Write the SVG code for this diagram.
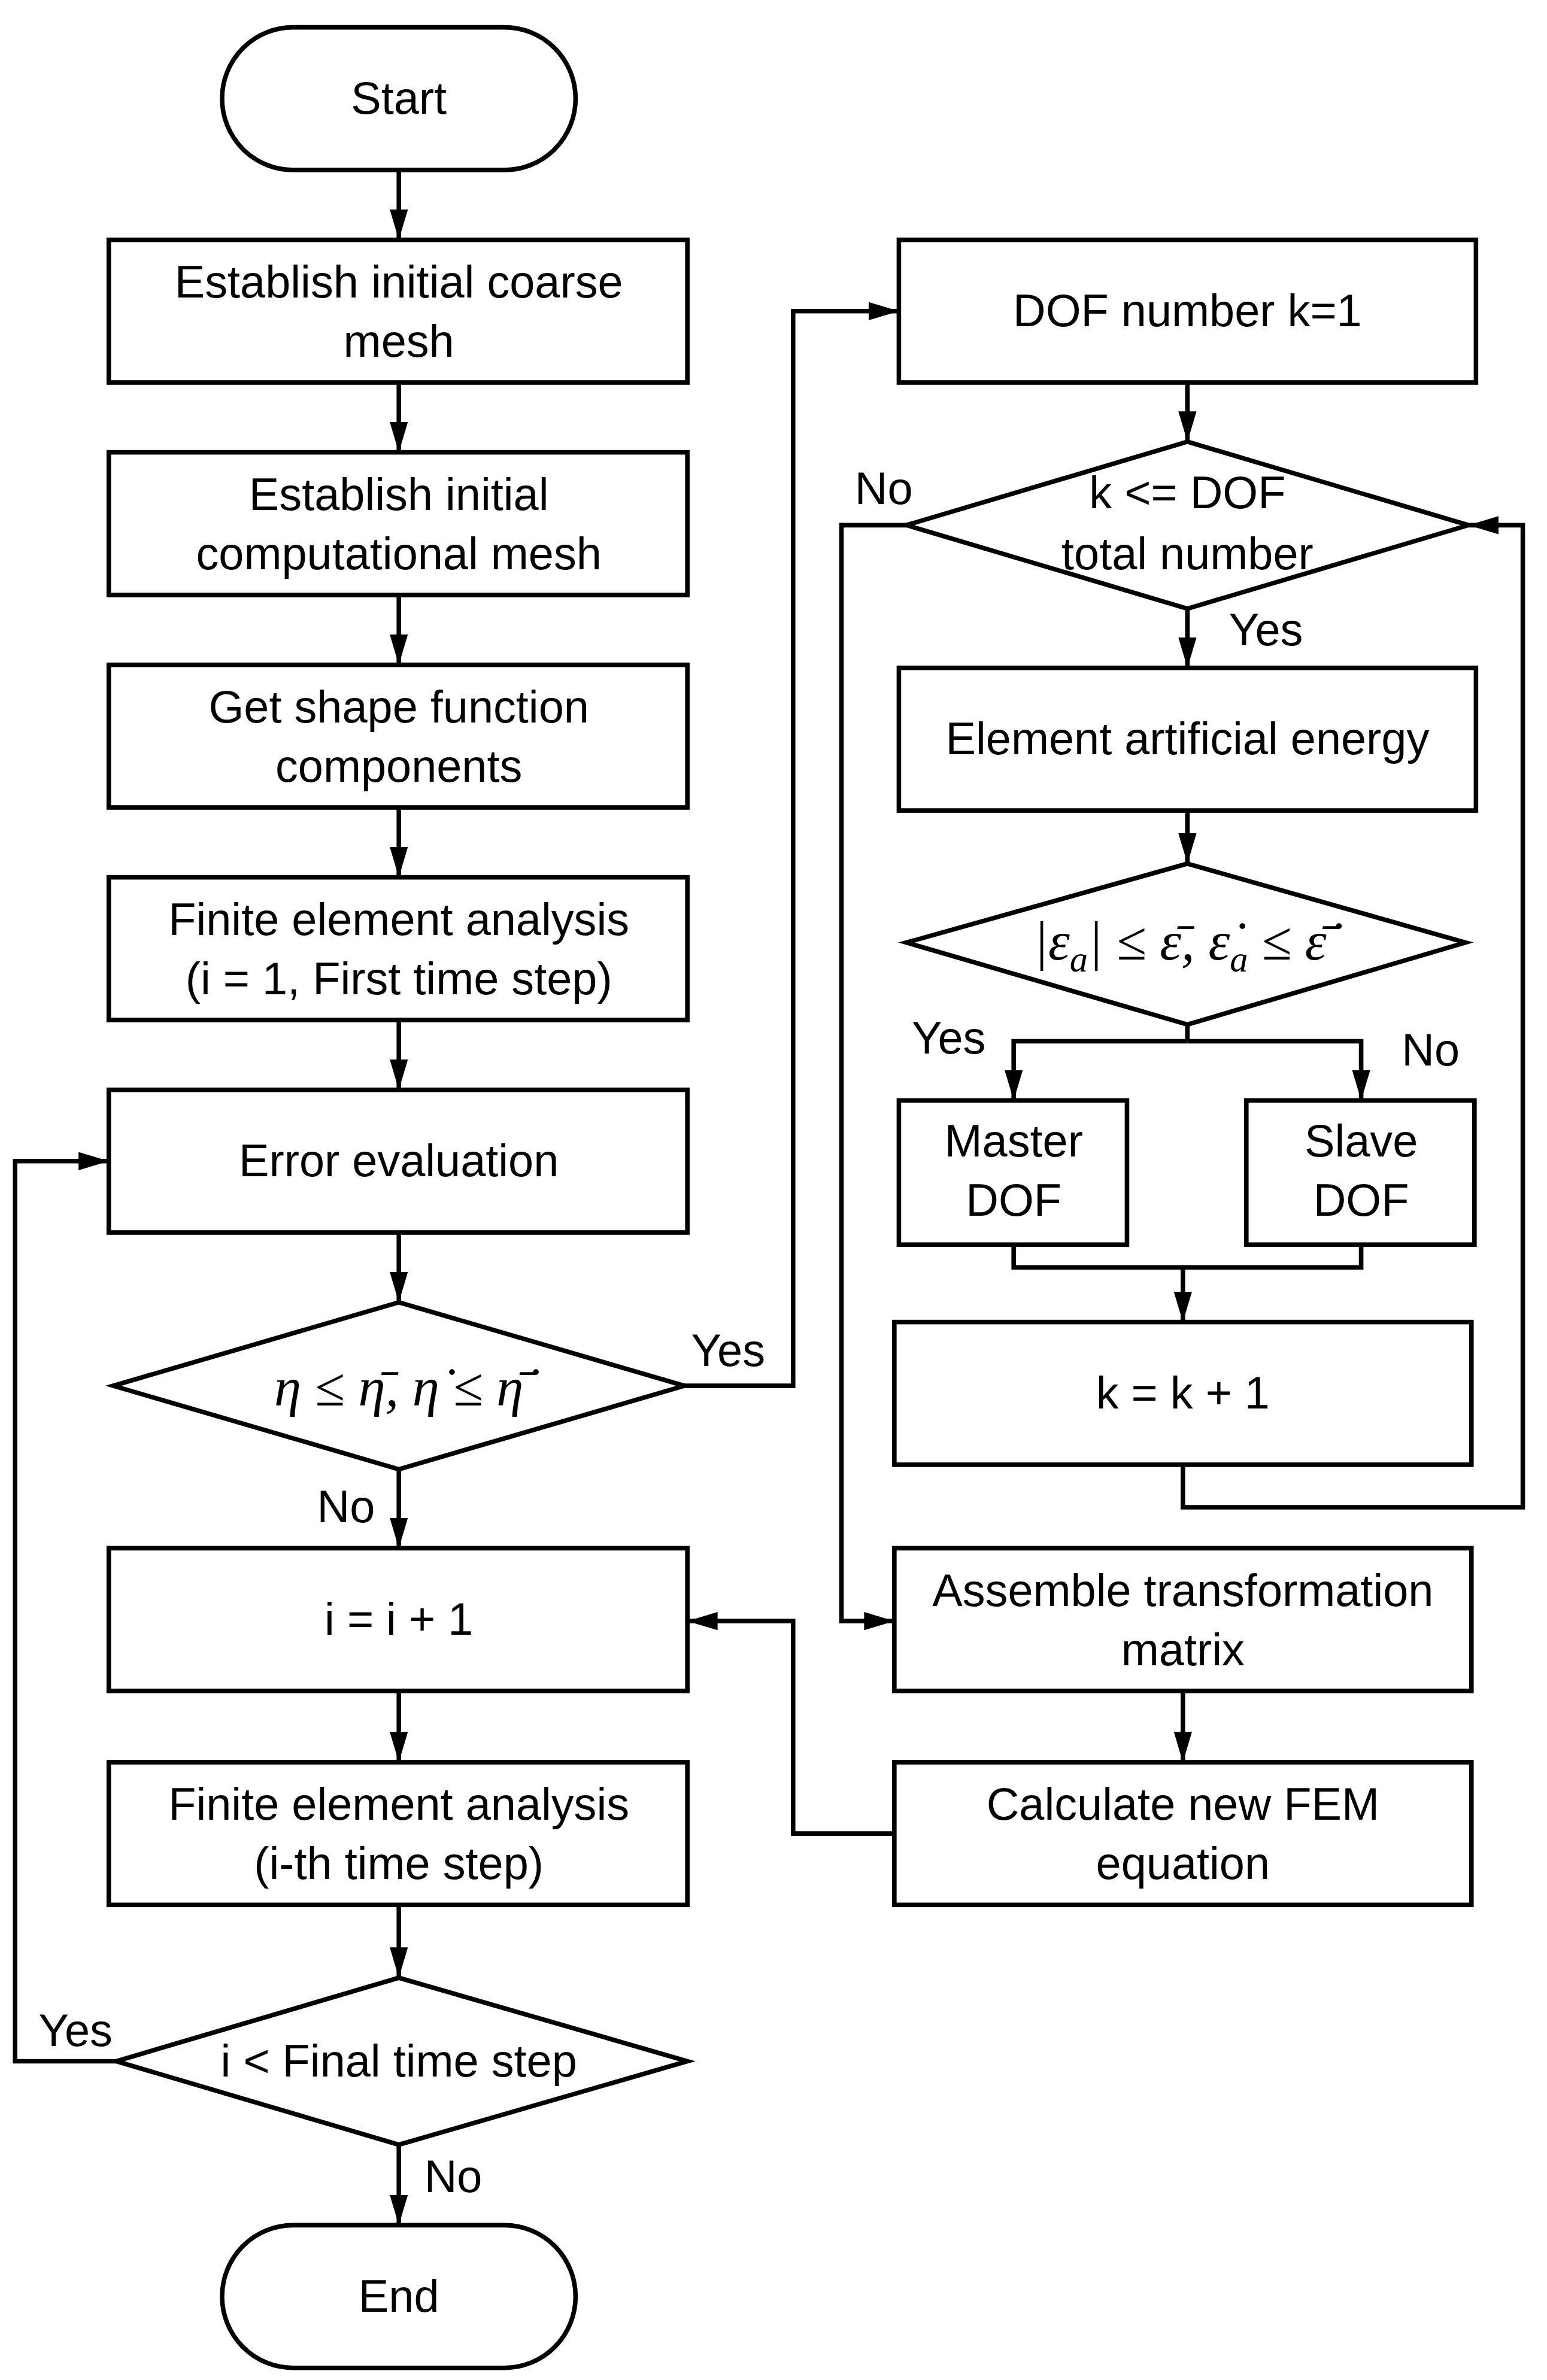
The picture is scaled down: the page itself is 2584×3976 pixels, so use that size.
<svg xmlns="http://www.w3.org/2000/svg" width="2584" height="3976" viewBox="0 0 2584 3976">
<style>
.n{fill:#fff;stroke:#000;stroke-width:3}
.t{font-family:"Liberation Sans",Arial,sans-serif;font-size:30px;text-anchor:middle;fill:#000}
.m{font-family:"Liberation Serif","DejaVu Serif",serif;font-style:italic;font-size:36px;text-anchor:middle;fill:#000}
.c{fill:none;stroke:#000;stroke-width:3}
</style>
<defs><marker id="a" markerWidth="8" markerHeight="10" refX="8" refY="5" orient="auto" markerUnits="userSpaceOnUse"><path d="M0,0 L0,0 L8,5 L0,10 Z" transform="scale(1)"/></marker>
<marker id="h" viewBox="0 0 20 12" markerWidth="20" markerHeight="12" refX="20" refY="6" orient="auto" markerUnits="userSpaceOnUse"><path d="M0,0 L20,6 L0,12 Z"/></marker></defs>
<rect width="2584" height="3976" fill="#fff"/>
<g transform="scale(2.5234,2.5357)">
<g id="connectors">
<path class="c" marker-end="url(#h)" d="M264,112 V158"/>
<path class="c" marker-end="url(#h)" d="M264,252 V298"/>
<path class="c" marker-end="url(#h)" d="M264,392 V438"/>
<path class="c" marker-end="url(#h)" d="M264,532 V578"/>
<path class="c" marker-end="url(#h)" d="M264,672 V718"/>
<path class="c" marker-end="url(#h)" d="M264,812 V858"/>
<path class="c" marker-end="url(#h)" d="M264,968 V1020"/>
<path class="c" marker-end="url(#h)" d="M264,1114 V1161"/>
<path class="c" marker-end="url(#h)" d="M264,1255 V1303"/>
<path class="c" marker-end="url(#h)" d="M264,1413 V1466"/>
<path class="c" marker-end="url(#h)" d="M77,1358 H10 V765 H72"/>
<path class="c" marker-end="url(#h)" d="M453,913 H525 V205 H595"/>
<path class="c" marker-end="url(#h)" d="M786,252 V291"/>
<path class="c" marker-end="url(#h)" d="M786,401 V440"/>
<path class="c" marker-end="url(#h)" d="M786,534 V569"/>
<path class="c" d="M786,675 V686"/>
<path class="c" marker-end="url(#h)" d="M786,686 H671 V725"/>
<path class="c" marker-end="url(#h)" d="M786,686 H901 V725"/>
<path class="c" d="M671,820 V835 H901 V820"/>
<path class="c" marker-end="url(#h)" d="M783,835 V871"/>
<path class="c" marker-end="url(#h)" d="M783,965 V993 H1008 V346 H972"/>
<path class="c" marker-end="url(#h)" d="M600,346 H557 V1068 H592"/>
<path class="c" marker-end="url(#h)" d="M783,1114 V1161"/>
<path class="c" marker-end="url(#h)" d="M592,1208 H525 V1068 H455"/>
</g>
<g id="start"><rect class="n" x="147" y="18" width="234" height="94" rx="47"/><text class="t" x="264" y="75">Start</text></g>
<g id="b1"><rect class="n" x="72" y="158" width="383" height="94"/><text class="t" x="264" y="196">Establish initial coarse</text><text class="t" x="264" y="235">mesh</text></g>
<g id="b2"><rect class="n" x="72" y="298" width="383" height="94"/><text class="t" x="264" y="336">Establish initial</text><text class="t" x="264" y="375">computational mesh</text></g>
<g id="b3"><rect class="n" x="72" y="438" width="383" height="94"/><text class="t" x="264" y="476">Get shape function</text><text class="t" x="264" y="515">components</text></g>
<g id="b4"><rect class="n" x="72" y="578" width="383" height="94"/><text class="t" x="264" y="616">Finite element analysis</text><text class="t" x="264" y="655">(i = 1, First time step)</text></g>
<g id="b5"><rect class="n" x="72" y="718" width="383" height="94"/><text class="t" x="264" y="775">Error evaluation</text></g>
<g id="d1"><polygon class="n" points="264,858 453,913 264,968 75,913"/><text class="m" x="264" y="926">η ≤ η̄, η̇ ≤ η̄̇</text></g>
<g id="b6"><rect class="n" x="72" y="1020" width="383" height="94"/><text class="t" x="264" y="1077">i = i + 1</text></g>
<g id="b7"><rect class="n" x="72" y="1161" width="383" height="94"/><text class="t" x="264" y="1199">Finite element analysis</text><text class="t" x="264" y="1238">(i-th time step)</text></g>
<g id="d2"><polygon class="n" points="264,1303 455,1358 264,1413 77,1358"/><text class="t" x="264" y="1368">i &lt; Final time step</text></g>
<g id="end"><rect class="n" x="147" y="1466" width="234" height="94" rx="47"/><text class="t" x="264" y="1523">End</text></g>
<g id="r1"><rect class="n" x="595" y="158" width="382" height="94"/><text class="t" x="786" y="215">DOF number k=1</text></g>
<g id="d3"><polygon class="n" points="786,291 972,346 786,401 600,346"/><text class="t" x="786" y="335">k &lt;= DOF</text><text class="t" x="786" y="375">total number</text></g>
<g id="r2"><rect class="n" x="595" y="440" width="382" height="94"/><text class="t" x="786" y="497">Element artificial energy</text></g>
<g id="d4"><polygon class="n" points="786,569 970,621 786,675 600,621"/><text class="m" x="781" y="632">|ε<tspan font-size="24" dy="8">a</tspan><tspan dy="-8">| ≤ ε̄, ε̇</tspan><tspan font-size="24" dy="8">a</tspan><tspan dy="-8"> ≤ ε̄̇</tspan></text></g>
<g id="master"><rect class="n" x="595" y="725" width="151" height="95"/><text class="t" x="671" y="762">Master</text><text class="t" x="671" y="801">DOF</text></g>
<g id="slave"><rect class="n" x="825" y="725" width="151" height="95"/><text class="t" x="901" y="762">Slave</text><text class="t" x="901" y="801">DOF</text></g>
<g id="r3"><rect class="n" x="592" y="871" width="382" height="94"/><text class="t" x="783" y="928">k = k + 1</text></g>
<g id="r4"><rect class="n" x="592" y="1020" width="382" height="94"/><text class="t" x="783" y="1058">Assemble transformation</text><text class="t" x="783" y="1097">matrix</text></g>
<g id="r5"><rect class="n" x="592" y="1161" width="382" height="94"/><text class="t" x="783" y="1199">Calculate new FEM</text><text class="t" x="783" y="1238">equation</text></g>
<g id="labels">
<text class="t" x="482" y="900">Yes</text><text class="t" x="229" y="1003">No</text>
<text class="t" x="50" y="1348">Yes</text><text class="t" x="300" y="1444">No</text>
<text class="t" x="585" y="332">No</text><text class="t" x="838" y="425">Yes</text>
<text class="t" x="628" y="694">Yes</text><text class="t" x="947" y="702">No</text>
</g>
</g>
</svg>
